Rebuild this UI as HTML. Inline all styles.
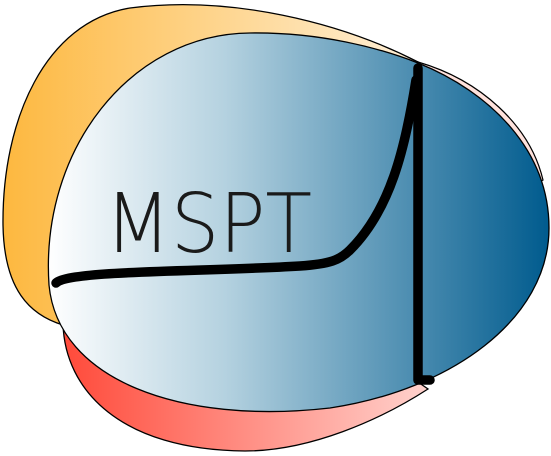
<!DOCTYPE html>
<html><head><meta charset="utf-8"><style>html,body{margin:0;padding:0;background:#fff}svg{display:block}</style></head>
<body>
<svg width="551" height="456" viewBox="0 0 551 456" xmlns="http://www.w3.org/2000/svg">
<defs>
<linearGradient id="go" x1="0" x2="1" y1="0" y2="0"><stop offset="0" stop-color="#fdb83f"/><stop offset="1" stop-color="#fff0d8"/></linearGradient>
<linearGradient id="gr" x1="0" x2="1" y1="0" y2="0"><stop offset="0" stop-color="#ff4a3a"/><stop offset="1" stop-color="#ffd2cd"/></linearGradient>
<linearGradient id="gb" x1="0" x2="1" y1="0" y2="0"><stop offset="0" stop-color="#ffffff"/><stop offset="0.35" stop-color="#b5d2e0"/><stop offset="1" stop-color="#005b8e"/></linearGradient>
</defs>
<path d="M418,62 C340,22 230,-5 130,8 C45,22 2,120 3,225 C4,290 30,315 63,325 L200,250 Z" fill="url(#go)" stroke="#000" stroke-width="1.3"/>
<path d="M63,324 C65,390 120,450 245,451 C310,451 380,420 428,389 L300,300 Z" fill="url(#gr)" stroke="#000" stroke-width="1.3"/>
<path d="M418,62 C480,80 530,125 543,180 L500,200 Z" fill="#ffe2dc" stroke="#000" stroke-width="1.2"/>
<path d="M49,285 C40,150 130,34 250,33 C320,32 380,48 418,63 C490,92 549,150 549,228 C549,320 450,390 330,408 C180,425 58,380 49,285 Z" fill="url(#gb)" stroke="#000" stroke-width="1.3"/>
<text x="105" y="252" font-family="DejaVu Sans ExtraLight, DejaVu Sans, Liberation Sans, sans-serif" font-size="82" textLength="207" lengthAdjust="spacingAndGlyphs" fill="#1a1a1a" style="font-weight:200">MSPT</text>
<path d="M56,283 C70,270 200,272 300,266 C330,264 340,260 350,250 C390,210 405,150 416,80" fill="none" stroke="#000" stroke-width="9.5" stroke-linecap="round"/>
<path d="M418,68 L418,380 L430,380" fill="none" stroke="#000" stroke-width="9.5" stroke-linecap="round" stroke-linejoin="round"/>
</svg>
</body></html>
